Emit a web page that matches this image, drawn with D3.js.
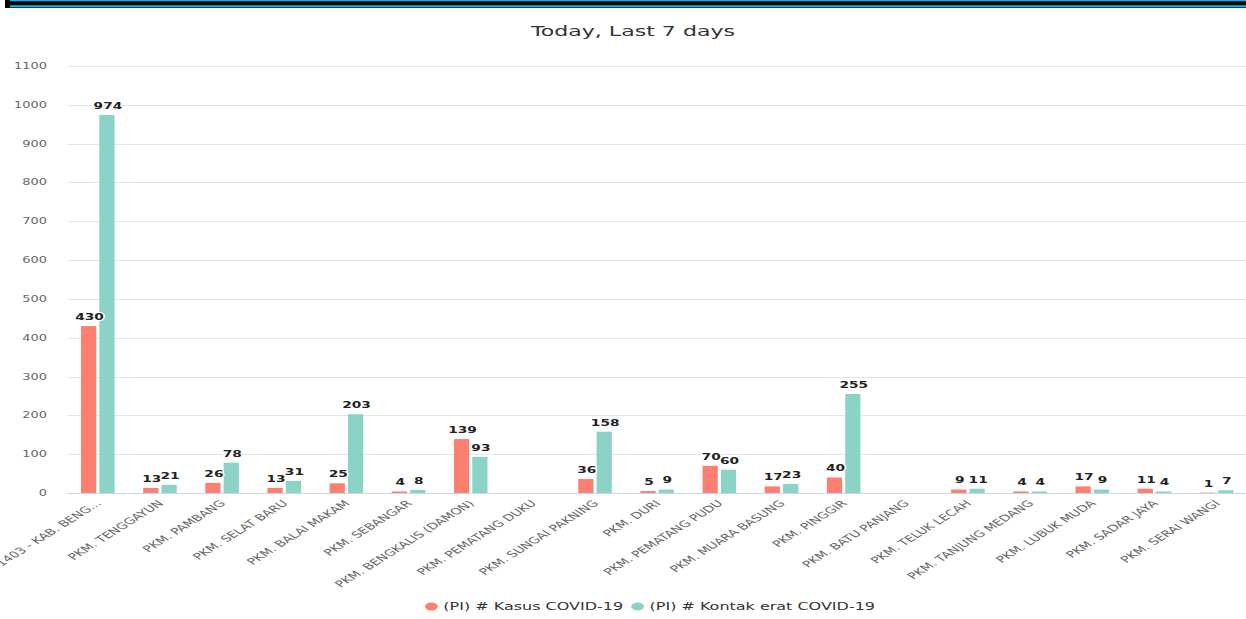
<!DOCTYPE html>
<html>
<head>
<meta charset="utf-8">
<script src="https://cdn.jsdelivr.net/npm/d3@7"></script>
<style>
  body { margin: 0; background: #fff; }
  svg { display: block; }
</style>
</head>
<body>
<div id="viz"></div>
<script>
const categories = [
  '1403 - KAB. BENG...', 'PKM. TENGGAYUN', 'PKM. PAMBANG', 'PKM. SELAT BARU',
  'PKM. BALAI MAKAM', 'PKM. SEBANGAR', 'PKM. BENGKALIS (DAMON)', 'PKM. PEMATANG DUKU',
  'PKM. SUNGAI PAKNING', 'PKM. DURI', 'PKM. PEMATANG PUDU', 'PKM. MUARA BASUNG',
  'PKM. PINGGIR', 'PKM. BATU PANJANG', 'PKM. TELUK LECAH', 'PKM. TANJUNG MEDANG',
  'PKM. LUBUK MUDA', 'PKM. SADAR JAYA', 'PKM. SERAI WANGI'
];
const kasus = [430, 13, 26, 13, 25, 4, 139, null, 36, 5, 70, 17, 40, null, 9, 4, 17, 11, 1];
const kontak = [974, 21, 78, 31, 203, 8, 93, null, 158, 9, 60, 23, 255, null, 11, 4, 9, 4, 7];
const yTicks = d3.range(0, 1101, 100);
const seriesNames = ['(PI) # Kasus COVID-19', '(PI) # Kontak erat COVID-19'];
const seriesColors = ['#fd7f6f', '#8bd3c7'];
const title = 'Today, Last 7 days';

// the picture is stretched sideways, so draw narrow and let the viewBox widen it
const sx = 1.6, W = 1246, H = 619, vw = W / sx;
const plot = { left: 67 / sx, right: 1248 / sx, top: 66, bottom: 493 };
const font = '"DejaVu Sans", Verdana, sans-serif';

const svg = d3.select('#viz')
  .append('svg')
  .attr('width', W)
  .attr('height', H)
  .attr('viewBox', '0 0 ' + vw + ' ' + H)
  .attr('preserveAspectRatio', 'none')
  .style('font-family', font);

// top border strip
svg.append('rect').attr('x', 5 / sx).attr('y', 0).attr('width', vw).attr('height', 8).attr('fill', '#000');
svg.append('rect').attr('x', 10 / sx).attr('y', 0).attr('width', vw).attr('height', 1.3).attr('fill', '#12aee8');
svg.append('rect').attr('x', 10 / sx).attr('y', 5.2).attr('width', vw).attr('height', 2.2).attr('fill', '#12aee8');

svg.append('text')
  .attr('x', 633 / sx)
  .attr('y', 36)
  .attr('text-anchor', 'middle')
  .attr('fill', '#333333')
  .style('font-size', '13.8px')
  .text(title);

const yScale = d3.scaleLinear().domain([0, 1100]).range([plot.bottom, plot.top]);

const xScale = d3.scaleBand()
  .domain(categories)
  .range([plot.left, plot.right]);

const xInner = d3.scaleBand()
  .domain([0, 1])
  .range([xScale.bandwidth() * 0.225, xScale.bandwidth() * 0.765])
  .paddingInner(0.17);

// grid
svg.append('g')
  .selectAll('line')
  .data(yTicks.slice(1))
  .enter().append('line')
  .attr('x1', plot.left)
  .attr('x2', vw)
  .attr('y1', d => Math.round(yScale(d)) + 0.5)
  .attr('y2', d => Math.round(yScale(d)) + 0.5)
  .attr('stroke', '#e6e6e6')
  .attr('stroke-width', 1);

svg.append('g')
  .selectAll('text')
  .data(yTicks)
  .enter().append('text')
  .attr('x', 47 / sx)
  .attr('y', d => yScale(d) + 3)
  .attr('text-anchor', 'end')
  .attr('fill', '#666666')
  .style('font-size', '8.1px')
  .text(d => d);

// bars
const series = [kasus, kontak];
const rows = [];
series.forEach((vals, s) => {
  vals.forEach((v, i) => {
    if (v !== null) rows.push({ cat: categories[i], s: s, v: v });
  });
});

svg.append('g')
  .selectAll('rect')
  .data(rows)
  .enter().append('rect')
  .attr('x', d => xScale(d.cat) + xInner(d.s))
  .attr('width', xInner.bandwidth())
  .attr('y', d => yScale(d.v))
  .attr('height', d => plot.bottom - yScale(d.v))
  .attr('fill', d => seriesColors[d.s]);

// axis line
svg.append('line')
  .attr('x1', plot.left)
  .attr('x2', vw)
  .attr('y1', plot.bottom + 0.5)
  .attr('y2', plot.bottom + 0.5)
  .attr('stroke', '#ccd6eb');

// value labels
svg.append('g')
  .selectAll('text')
  .data(rows)
  .enter().append('text')
  .attr('x', d => xScale(d.cat) + xInner(d.s) + xInner.bandwidth() / 2 + 1 / sx)
  .attr('y', d => yScale(d.v) - 6)
  .attr('text-anchor', 'middle')
  .attr('fill', '#222')
  .attr('stroke', '#fff')
  .attr('stroke-width', 2)
  .attr('paint-order', 'stroke')
  .style('font-size', '8.6px')
  .style('font-weight', 'bold')
  .text(d => d.v);

// category labels
svg.append('g')
  .selectAll('text')
  .data(categories)
  .enter().append('text')
  .attr('transform', d => 'translate(' + (xScale(d) + xScale.bandwidth() / 2 + 2.5) + ',' + (plot.bottom + 11) + ') rotate(-45)')
  .attr('text-anchor', 'end')
  .attr('fill', '#666666')
  .style('font-size', '8.9px')
  .text(d => d);

// legend
const legend = svg.append('g');
let lx = 0;
seriesNames.forEach((name, s) => {
  const item = legend.append('g').attr('transform', 'translate(' + lx + ',0)');
  item.append('circle').attr('cx', 4).attr('cy', -3.5).attr('r', 4).attr('fill', seriesColors[s]);
  const t = item.append('text')
    .attr('x', 12 / sx + 4)
    .attr('y', 0)
    .attr('fill', '#333333')
    .style('font-size', '10px')
    .text(name);
  lx += 4 + 12 / sx + t.node().getComputedTextLength() + 8 / sx;
});
const lw = lx - 8 / sx;
legend.attr('transform', 'translate(' + (650 / sx - lw / 2) + ',610)');
</script>
</body>
</html>
